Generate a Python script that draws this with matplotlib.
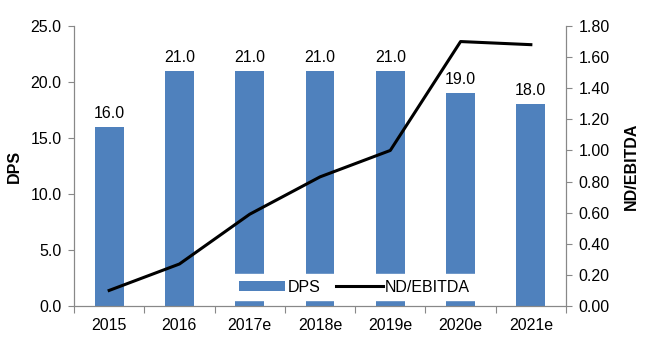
import matplotlib
matplotlib.use("Agg")
import matplotlib.pyplot as plt

years = ["2015", "2016", "2017e", "2018e", "2019e", "2020e", "2021e"]
dps = [16.0, 21.0, 21.0, 21.0, 21.0, 19.0, 18.0]
nd_ebitda = [0.10, 0.27, 0.59, 0.83, 1.00, 1.70, 1.68]

plt.rcParams['font.family'] = ['Liberation Sans', 'DejaVu Sans']
FS = 11.5

fig = plt.figure(figsize=(6.48, 3.42), dpi=100)
ax = fig.add_axes([74/648, 1-306/342, (566-74)/648, 280/342])
ax2 = ax.twinx()

x = list(range(len(years)))
bars = ax.bar(x, dps, width=0.41, color='#4F81BD', label='DPS', zorder=2)
for xi, v in zip(x, dps):
    ax.text(xi, v + 0.55, f"{v:.1f}", ha='center', va='bottom', fontsize=FS)

line, = ax2.plot(x, nd_ebitda, color='black', lw=2.2, label='ND/EBITDA')

ax.set_xlim(-0.5, len(years) - 0.5)
ax.set_ylim(0, 25)
ax.set_yticks([0, 5, 10, 15, 20, 25])
ax.set_yticklabels([f"{v:.1f}" for v in [0, 5, 10, 15, 20, 25]])
ax2.set_ylim(0, 1.8)
ax2.set_yticks([i * 0.2 for i in range(10)])
ax2.set_yticklabels([f"{i*0.2:.2f}" for i in range(10)])

ax.set_xticks([i - 0.5 for i in range(len(years) + 1)], minor=False)
ax.set_xticklabels([])
ax.set_xticks(x, minor=True)
ax.set_xticklabels(years, minor=True)
ax.tick_params(axis='x', which='minor', length=0, pad=9, labelsize=FS)
ax.tick_params(axis='x', which='major', length=5, color='#888888', direction='out')
ax.tick_params(axis='y', length=4, color='#888888', direction='out', labelsize=FS, pad=5)
ax2.tick_params(axis='y', length=4, color='#888888', direction='out', labelsize=FS, pad=5)

for a in (ax, ax2):
    a.spines['top'].set_visible(False)
    for s in ('left', 'right', 'bottom'):
        a.spines[s].set_color('#888888')

ax.set_ylabel('DPS', fontweight='bold', fontsize=FS, labelpad=6)
ax2.set_ylabel('ND/EBITDA', fontweight='bold', fontsize=FS, labelpad=10)

leg = ax2.legend([bars, line], ['DPS', 'ND/EBITDA'], loc='lower center',
                 bbox_to_anchor=(0.57, 0.015), ncol=2, frameon=True,
                 fancybox=False, edgecolor='white', framealpha=1,
                 fontsize=FS, handlelength=2.9, handleheight=0.55,
                 columnspacing=1.0, handletextpad=0.15, borderpad=0.35,
                 borderaxespad=0.1)
leg.set_zorder(10)

fig.savefig('out.png', dpi=100)
